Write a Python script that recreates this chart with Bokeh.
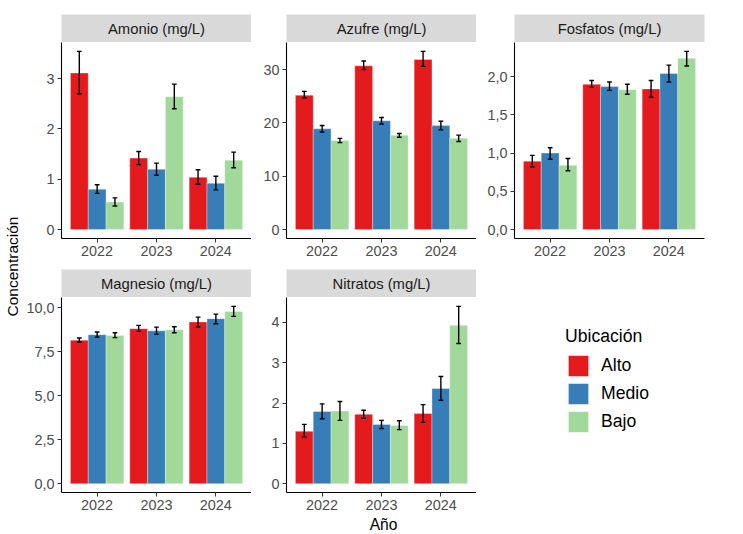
from math import pi
from bokeh.plotting import figure
from bokeh.models import (ColumnDataSource, Range1d, FactorRange, FixedTicker, Legend,
                          LegendItem, Spacer, CustomJSTickFormatter)
from bokeh.layouts import row, column
from bokeh.transform import dodge
from bokeh.core.properties import value
from bokeh.embed import file_html
from bokeh.resources import INLINE

FONT = "Liberation Sans"

anios = ["2022", "2023", "2024"]
ubicaciones = ["Alto", "Medio", "Bajo"]
colores = ["#E41A1C", "#377EB8", "#A1D99B"]

# rows: Alto, Medio, Bajo ; columns: 2022, 2023, 2024
amonio_media = [[3.11, 1.42, 1.04], [0.80, 1.20, 0.92], [0.55, 2.64, 1.38]]
amonio_inf = [[2.70, 1.29, 0.90], [0.72, 1.08, 0.79], [0.47, 2.40, 1.23]]
amonio_sup = [[3.54, 1.55, 1.19], [0.89, 1.32, 1.06], [0.63, 2.89, 1.54]]

azufre_media = [[25.2, 30.7, 31.9], [18.9, 20.4, 19.5], [16.7, 17.7, 17.1]]
azufre_inf = [[24.7, 30.0, 30.6], [18.3, 19.8, 18.7], [16.3, 17.3, 16.5]]
azufre_sup = [[25.9, 31.6, 33.4], [19.5, 21.0, 20.3], [17.1, 18.0, 17.7]]

fosfatos_media = [[0.895, 1.90, 1.84], [1.00, 1.87, 2.04], [0.84, 1.83, 2.24]]
fosfatos_inf = [[0.82, 1.86, 1.73], [0.92, 1.82, 1.93], [0.77, 1.77, 2.14]]
fosfatos_sup = [[0.97, 1.95, 1.95], [1.07, 1.93, 2.15], [0.93, 1.90, 2.33]]

magnesio_media = [[8.16, 8.81, 9.19], [8.47, 8.69, 9.38], [8.43, 8.75, 9.79]]
magnesio_inf = [[8.05, 8.66, 8.92], [8.33, 8.50, 9.09], [8.30, 8.58, 9.51]]
magnesio_sup = [[8.28, 9.00, 9.47], [8.62, 8.90, 9.64], [8.58, 8.92, 10.08]]

nitratos_media = [[1.30, 1.72, 1.74], [1.79, 1.47, 2.36], [1.80, 1.44, 3.93]]
nitratos_inf = [[1.16, 1.62, 1.52], [1.61, 1.37, 2.07], [1.57, 1.34, 3.48]]
nitratos_sup = [[1.47, 1.82, 1.96], [1.98, 1.57, 2.66], [2.04, 1.56, 4.40]]

ticks_amonio = [0, 1, 2, 3]
labels_amonio = ["0", "1", "2", "3"]
ticks_azufre = [0, 10, 20, 30]
labels_azufre = ["0", "10", "20", "30"]
ticks_fosfatos = [0, 0.5, 1.0, 1.5, 2.0]
labels_fosfatos = ["0,0", "0,5", "1,0", "1,5", "2,0"]
ticks_magnesio = [0, 2.5, 5.0, 7.5, 10.0]
labels_magnesio = ["0,0", "2,5", "5,0", "7,5", "10,0"]
ticks_nitratos = [0, 1, 2, 3, 4]
labels_nitratos = ["0", "1", "2", "3", "4"]

FRAME_W = 190
TICK_COLOR = "#333333"
LABEL_COLOR = "#4D4D4D"
TICK_FONT = "14.4px"


def bare(width, height, xr, yr):
    f = figure(width=width, height=height, x_range=xr, y_range=yr,
               x_axis_location=None, y_axis_location=None, output_backend="svg", toolbar_location=None,
               min_border_left=0, min_border_right=0, min_border_top=0, min_border_bottom=0,
               outline_line_color=None)
    f.grid.visible = False
    return f


def strip(titulo, left, right):
    s = figure(width=left + FRAME_W + right, height=28, x_range=Range1d(0, 1), y_range=Range1d(0, 1),
               x_axis_location=None, y_axis_location=None, output_backend="svg", toolbar_location=None,
               min_border_left=left, min_border_right=right, min_border_top=0, min_border_bottom=0,
               background_fill_color="#D9D9D9", outline_line_color=None, border_fill_color="white")
    s.grid.visible = False
    s.text(x=[0.5], y=[0.5], text=[titulo], text_align="center", text_baseline="middle",
           text_font=value(FONT), text_font_size="14.8px", text_color="#1A1A1A")
    return s


def panel(media, inf, sup, ticks, labels, left, right, frame_h, bottom):
    ymax = max(max(r) for r in sup)
    p = figure(width=left + FRAME_W + right, height=frame_h + bottom,
               x_range=FactorRange(*anios, range_padding=0.1, range_padding_units="absolute"),
               y_range=Range1d(-0.05 * ymax, 1.05 * ymax),
               output_backend="svg", toolbar_location=None,
               min_border_left=left, min_border_right=right, min_border_top=0, min_border_bottom=bottom,
               outline_line_color=None, background_fill_color="white")
    p.xgrid.visible = False
    p.ygrid.visible = False
    for i, col in enumerate(colores):
        off = (i - 1) * 0.3
        src = ColumnDataSource(dict(anio=anios, media=media[i], inf=inf[i], sup=sup[i]))
        p.vbar(x=dodge("anio", off, range=p.x_range), top="media", bottom=0, width=0.3,
               fill_color=col, line_color="white", line_width=0.6, line_alpha=0.55, source=src)
        p.segment(x0=dodge("anio", off, range=p.x_range), x1=dodge("anio", off, range=p.x_range),
                  y0="inf", y1="sup", line_color="black", line_width=1.4, source=src)
        for f in ("inf", "sup"):
            p.segment(x0=dodge("anio", off - 0.04, range=p.x_range), x1=dodge("anio", off + 0.04, range=p.x_range),
                      y0=f, y1=f, line_color="black", line_width=1.4, source=src)
    for ax in (p.xaxis[0], p.yaxis[0]):
        ax.axis_line_color = "black"
        ax.axis_line_width = 1.1
        ax.major_tick_line_color = TICK_COLOR
        ax.major_tick_in = 0
        ax.major_tick_out = 4
        ax.minor_tick_line_color = None
        ax.major_label_text_font = FONT
        ax.major_label_text_font_size = TICK_FONT
        ax.major_label_text_color = LABEL_COLOR
        ax.major_label_standoff = 3
    p.yaxis.ticker = FixedTicker(ticks=ticks)
    p.yaxis.formatter = CustomJSTickFormatter(
        args=dict(tv=ticks, tl=labels),
        code="const i = tv.findIndex(t => Math.abs(t - tick) < 1e-9); return i >= 0 ? tl[i] : '';")
    return p


L1, L2, L3, R3 = 39, 35, 38, 10
H1, H2 = 196, 195
B1, B2 = 31, 24

p1 = panel(amonio_media, amonio_inf, amonio_sup, ticks_amonio, labels_amonio, L1, 0, H1, B1)
p2 = panel(azufre_media, azufre_inf, azufre_sup, ticks_azufre, labels_azufre, L2, 0, H1, B1)
p3 = panel(fosfatos_media, fosfatos_inf, fosfatos_sup, ticks_fosfatos, labels_fosfatos, L3, R3, H1, B1)
p4 = panel(magnesio_media, magnesio_inf, magnesio_sup, ticks_magnesio, labels_magnesio, L1, 0, H2, B2)
p5 = panel(nitratos_media, nitratos_inf, nitratos_sup, ticks_nitratos, labels_nitratos, L2, 0, H2, B2)

c1 = column(strip("Amonio (mg/L)", L1, 0), p1)
c2 = column(strip("Azufre (mg/L)", L2, 0), p2)
c3 = column(strip("Fosfatos (mg/L)", L3, R3), p3)
c4 = column(strip("Magnesio (mg/L)", L1, 0), p4)
c5 = column(strip("Nitratos (mg/L)", L2, 0), p5)

# Legend
LW, LH = L3 + FRAME_W + R3, 28 + H2 + B2
lf = bare(LW, LH, Range1d(0, 1), Range1d(0, 1))
rs = []
for col in colores:
    rs.append(lf.vbar(x=[-5], top=[0], width=0.3, fill_color=col, line_color="white", line_width=1))
legend = Legend(items=[LegendItem(label=u, renderers=[r]) for u, r in zip(ubicaciones, rs)],
                location=(89, 81), title="Ubicación",
                title_text_font=FONT, title_text_font_size="17.6px", title_text_color="black",
                title_text_font_style="normal", title_standoff=5,
                label_text_font=FONT, label_text_font_size="17.6px", label_text_color="black",
                label_standoff=10, glyph_width=26, glyph_height=27, label_height=27, spacing=1,
                padding=0, margin=0, border_line_color=None, background_fill_alpha=0)
lf.add_layout(legend)

TOP = 14
total_w = (L1 + FRAME_W) + (L2 + FRAME_W) + LW
XL_H = 532 - TOP - (28 + H1 + B1) - (28 + H2 + B2)

# Axis titles
YL_W = 22
yl = bare(YL_W, 532, Range1d(0, YL_W), Range1d(0, 532))
yl.text(x=[12], y=[532 - 266], text=["Concentración"], angle=pi / 2, text_align="center",
        text_baseline="middle", text_font=value(FONT), text_font_size="15.5px", text_color="black")

xl = bare(total_w, XL_H, Range1d(0, total_w), Range1d(0, XL_H))
xl.text(x=[383 - YL_W], y=[XL_H / 2], text=["Año"], text_align="center", text_baseline="middle",
        text_font=value(FONT), text_font_size="15.6px", text_color="black")

main = column(Spacer(width=total_w, height=TOP), row(c1, c2, c3), row(c4, c5, lf), xl)
page = row(yl, main)

open("out.html", "w").write(file_html(page, INLINE))
